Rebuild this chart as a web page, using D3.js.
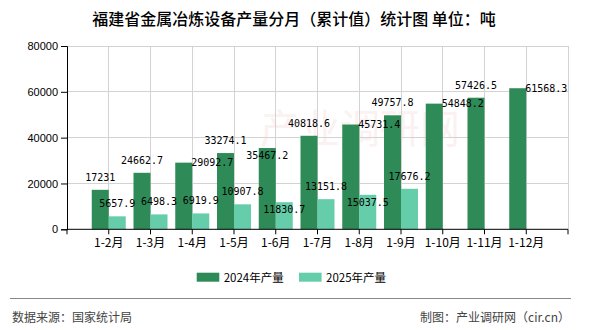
<!DOCTYPE html>
<html>
<head>
<meta charset="utf-8">
<script src="https://cdn.jsdelivr.net/npm/d3@7/dist/d3.min.js"></script>
<style>
  html, body { margin: 0; padding: 0; background: #fff; }
  svg { display: block; }
</style>
</head>
<body>
<svg id="chart" width="590" height="330"></svg>
<script>
// ---- data ----
const categories = ["1-2月","1-3月","1-4月","1-5月","1-6月","1-7月","1-8月","1-9月","1-10月","1-11月","1-12月"];
const seriesNames = ["2024年产量","2025年产量"];
const values2024 = [17231, 24662.7, 29092.7, 33274.1, 35467.2, 40818.6, 45731.4, 49757.8, 54848.2, 57426.5, 61568.3];
const values2025 = [5657.9, 6498.3, 6919.9, 10907.8, 11830.7, 13151.8, 15037.5, 17676.2];
const labelLabels2024 = ["17231","24662.7","29092.7","33274.1","35467.2","40818.6","45731.4","49757.8","54848.2","57426.5","61568.3"];
const labelLabels2025 = ["5657.9","6498.3","6919.9","10907.8","11830.7","13151.8","15037.5","17676.2"];
const yTicks = [0, 20000, 40000, 60000, 80000];
const titleText = "福建省金属冶炼设备产量分月（累计值）统计图 单位：吨";
const sourceText = "数据来源：国家统计局";
const makerText = "制图：产业调研网（cir.cn）";
// label placement per bar (as in the reference layout)
const labelPlace2024 = ["top","top","right","top","inside","top","right","top","right","top","right"];
const labelPlace2025 = ["top","top","top","top","inside","top","inside","top"];

// ---- layout ----
const colors = ["#2e8b57", "#66cdaa"];
const svg = d3.select("#chart");
const pLeft = 67, pRight = 568, pTop = 46, pBottom = 229.3;

const x = d3.scaleBand().domain(categories).range([pLeft, pRight]).paddingInner(0).paddingOuter(0.5);
const xs = d3.scaleBand().domain(seriesNames).range([-17, 17]);
const y = d3.scaleLinear().domain([0, 80000]).range([pBottom, pTop]);
const cx = c => x(c) + x.bandwidth() / 2;

// gridlines
const grid = svg.append("g");
grid.selectAll("line.h").data(yTicks.filter(t => t > 0)).enter().append("line")
  .attr("x1", pLeft).attr("x2", pRight).attr("y1", d => y(d)).attr("y2", d => y(d))
  .attr("stroke", "#d3d3d3").attr("stroke-width", 1).attr("shape-rendering", "crispEdges");
grid.selectAll("line.v").data(categories).enter().append("line")
  .attr("x1", d => cx(d)).attr("x2", d => cx(d)).attr("y1", pTop).attr("y2", pBottom)
  .attr("stroke", "#d3d3d3").attr("stroke-width", 1).attr("shape-rendering", "crispEdges");
grid.append("line").attr("x1", pRight).attr("x2", pRight).attr("y1", pTop).attr("y2", pBottom)
  .attr("stroke", "#d3d3d3").attr("shape-rendering", "crispEdges");

// watermark
svg.append("text").attr("x", 360).attr("y", 143).attr("text-anchor", "middle")
  .attr("font-family", "Noto Sans CJK SC").attr("font-size", 40)
  .attr("fill", "#f3c8c8").attr("opacity", 0.25).text("产业调研网");

// bars
const series = [values2024, values2025];
series.forEach((vals, si) => {
  svg.append("g").selectAll("rect").data(vals).enter().append("rect")
    .attr("x", (d, i) => cx(categories[i]) + xs(seriesNames[si]))
    .attr("width", xs.bandwidth())
    .attr("y", d => y(d))
    .attr("height", d => y(0) - y(d))
    .attr("fill", colors[si]);
});

// axes
const yAxis = d3.axisLeft(y).tickValues(yTicks).tickSize(6).tickPadding(3).tickFormat(d3.format("d"));
const gy = svg.append("g").attr("transform", `translate(${pLeft},0)`).call(yAxis);
gy.select(".domain").attr("stroke", "#000");
gy.selectAll(".tick line").attr("stroke", "#000");
gy.selectAll("text").attr("font-family", "Liberation Sans, Arial").attr("font-size", 11).attr("fill", "#000");

const xAxisG = svg.append("g").attr("transform", `translate(0,${pBottom})`);
xAxisG.append("line").attr("x1", pLeft).attr("x2", pRight).attr("y1", 0).attr("y2", 0).attr("stroke", "#000");
const tickPos = [pLeft].concat(categories.map(cx)).concat([pRight]);
xAxisG.selectAll("line.t").data(tickPos).enter().append("line")
  .attr("x1", d => d).attr("x2", d => d).attr("y1", 0).attr("y2", 5).attr("stroke", "#000");
xAxisG.selectAll("text").data(categories).enter().append("text")
  .attr("x", d => cx(d)).attr("y", 12.5).attr("dominant-baseline", "central")
  .attr("text-anchor", "middle").attr("font-family", "Noto Sans CJK SC").attr("font-size", 12)
  .attr("fill", "#000").text(d => d);

// value labels
const labelSets = [[values2024, labelLabels2024, labelPlace2024], [values2025, labelLabels2025, labelPlace2025]];
labelSets.forEach(([vals, texts, places], si) => {
  svg.append("g").selectAll("text").data(vals).enter().append("text")
    .attr("x", (d, i) => {
      const bc = cx(categories[i]) + xs(seriesNames[si]) + xs.bandwidth() / 2;
      return places[i] === "right" ? bc + xs.bandwidth() / 2 - 1 : bc;
    })
    .attr("y", (d, i) => places[i] === "right" ? y(d) : places[i] === "inside" ? y(d) + 7.5 : y(d) - 12.5)
    .attr("text-anchor", (d, i) => places[i] === "right" ? "start" : "middle")
    .attr("dominant-baseline", "central")
    .attr("font-family", "DejaVu Sans Mono").attr("font-size", 10).attr("fill", "#000")
    .text((d, i) => texts[i]);
});

// title
svg.append("text").attr("x", 294).attr("y", 17.5).attr("text-anchor", "middle")
  .attr("dominant-baseline", "central").attr("font-family", "Noto Sans CJK SC")
  .attr("font-size", 16).attr("font-weight", 500).attr("fill", "#000").text(titleText);

// legend
const legendX = [196.7, 299];
seriesNames.forEach((n, i) => {
  svg.append("rect").attr("x", legendX[i]).attr("y", 272.7).attr("width", 22.6).attr("height", 9).attr("fill", colors[i]);
  svg.append("text").attr("x", legendX[i] + 27).attr("y", 277.2).attr("dominant-baseline", "central")
    .attr("font-family", "Noto Sans CJK SC").attr("font-size", 11.5).attr("fill", "#000").text(n);
});

// footer
svg.append("line").attr("x1", 10).attr("x2", 571).attr("y1", 298.5).attr("y2", 298.5)
  .attr("stroke", "#888").attr("stroke-width", 1);
svg.append("text").attr("x", 12).attr("y", 316.7).attr("dominant-baseline", "central")
  .attr("font-family", "Noto Sans CJK SC").attr("font-size", 12).attr("fill", "#444").text(sourceText);
svg.append("text").attr("x", 570).attr("y", 316.7).attr("dominant-baseline", "central").attr("text-anchor", "end")
  .attr("font-family", "Noto Sans CJK SC").attr("font-size", 12).attr("fill", "#444").text(makerText);
</script>
</body>
</html>
